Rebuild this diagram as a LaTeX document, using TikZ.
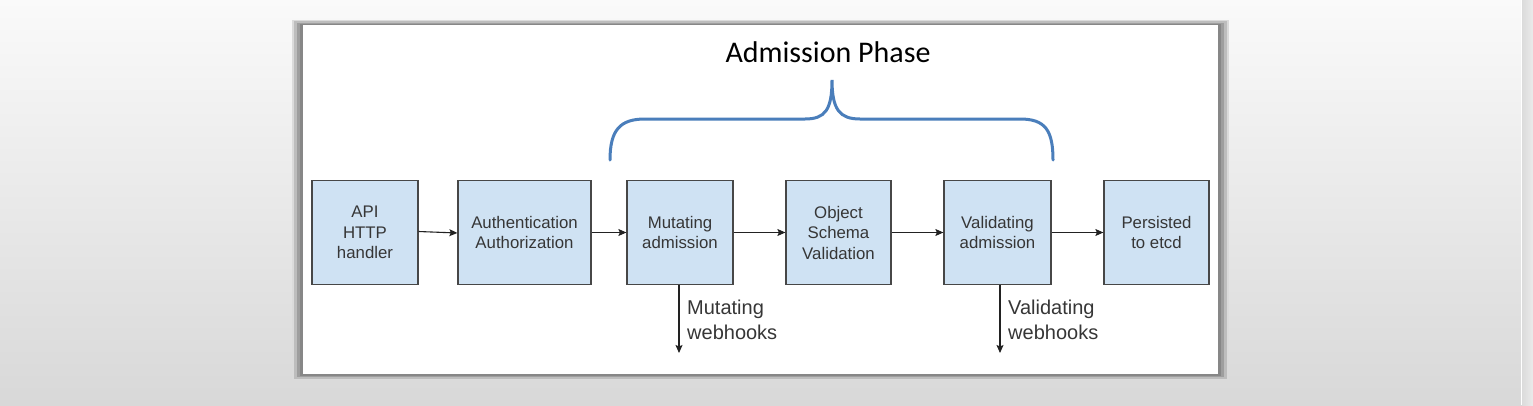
\documentclass[tikz,border=0pt]{standalone}
\usepackage{fontspec}
\setmainfont{Liberation Sans}
\newfontfamily\titlefont{Carlito}
\usetikzlibrary{arrows.meta}
\definecolor{bgtop}{HTML}{FAFAFA}
\definecolor{bgbot}{HTML}{D8D8D8}
\definecolor{boxfill}{HTML}{CFE2F3}
\definecolor{boxline}{HTML}{474747}
\definecolor{boxtext}{HTML}{363636}
\definecolor{bracecol}{HTML}{4A7EBB}
\definecolor{arrowcol}{HTML}{222222}
\tikzset{
  stepbox/.style={draw=boxline, fill=boxfill, line width=1.3pt, text=boxtext,
    minimum height=104pt, inner sep=0pt, align=center,
    font=\fontsize{16.8}{20.5}\selectfont},
  flow/.style={draw=arrowcol, line width=1.1pt, -{Stealth[length=8pt,width=7pt,inset=1.5pt]}},
  hooklabel/.style={anchor=north west, inner sep=0pt, align=left, text=boxtext,
    font=\fontsize{20}{25}\selectfont},
}
\begin{document}
\begin{tikzpicture}[x=1pt,y=-1pt]
\useasboundingbox (0,0) rectangle (1533,405);
% background
\shade[top color=bgtop, bottom color=bgbot] (0,0) rectangle (1522,405);
\fill[white] (1521,0) rectangle (1522,405);
\shade[left color=black!14, right color=black!8] (1522,0) rectangle (1533,405);
% panel shadow
\fill[black!14] (292,20) rectangle (1229,380);
\fill[black!26] (294,21) rectangle (1227,379);
\fill[black!38] (297,23) rectangle (1224,377);
\fill[black!47] (300,24) rectangle (1221,376);
% panel
\fill[white] (303,25) rectangle (1218,374);
% title and brace
\node[anchor=base, inner sep=0pt, font=\titlefont\fontsize{30}{36}\selectfont] (title) at (828,62) {Admission Phase};
\draw[bracecol, line width=3pt, line cap=round]
  (610,160) .. controls (610,130) and (620,119) .. (645,119) -- (805,119)
  .. controls (825,119) and (832,110) .. (832,80)
  .. controls (832,110) and (840,119) .. (860,119) -- (1020,119)
  .. controls (1045,119) and (1053,130) .. (1053,160);
% boxes
\node[stepbox, minimum width=106pt] (api) at (365,232.5) {API\\HTTP\\handler};
\node[stepbox, minimum width=133pt] (auth) at (524.5,232.5) {Authentication\\Authorization};
\node[stepbox, minimum width=106pt] (mut) at (680,232.5) {Mutating\\admission};
\node[stepbox, minimum width=105pt] (obj) at (838.5,232.5) {Object\\Schema\\Validation};
\node[stepbox, minimum width=107pt] (val) at (997.5,232.5) {Validating\\admission};
\node[stepbox, minimum width=105pt] (etcd) at (1156.5,232.5) {Persisted\\to etcd};
% horizontal flow
\draw[flow] ([yshift=1pt]api.east) -- ([yshift=-0.5pt]auth.west);
\draw[flow] (auth.east) -- (mut.west);
\draw[flow] (mut.east) -- (obj.west);
\draw[flow] (obj.east) -- (val.west);
\draw[flow] (val.east) -- (etcd.west);
% webhooks
\coordinate (mutend) at (679,353);
\coordinate (valend) at (1000,353);
\draw[flow] (mut.south -| mutend) -- (mutend);
\draw[flow] (val.south -| valend) -- (valend);
\node[hooklabel] (mutlbl) at (687,299.5) {Mutating\\webhooks};
\node[hooklabel] (vallbl) at (1008,299.5) {Validating\\webhooks};
\end{tikzpicture}
\end{document}
